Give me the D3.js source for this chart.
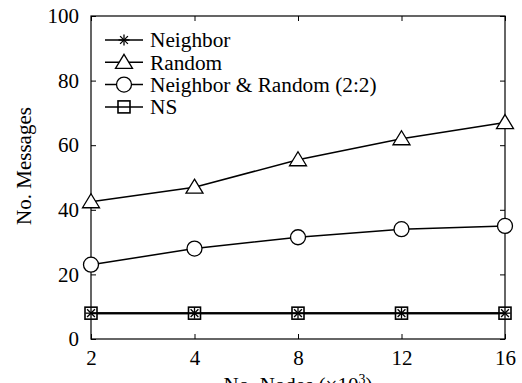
<!DOCTYPE html>
<html>
<head>
<meta charset="utf-8">
<script src="https://cdn.jsdelivr.net/npm/d3@7"></script>
<style>
  body { margin: 0; background: #fff; }
</style>
</head>
<body>
<div id="chart"></div>
<script>
const nodes = ['2', '4', '8', '12', '16']
const neighbor = [8, 8, 8, 8, 8]
const random = [42.5, 47, 55.5, 62, 67]
const mixed = [23, 28, 31.5, 34, 35]
const ns = [8, 8, 8, 8, 8]
const yTicks = [0, 20, 40, 60, 80, 100]

const series = [
  { name: 'Neighbor', values: neighbor, marker: 'star' },
  { name: 'Random', values: random, marker: 'triangle' },
  { name: 'Neighbor & Random (2:2)', values: mixed, marker: 'circle' },
  { name: 'NS', values: ns, marker: 'square' }
]

const serif = 'Liberation Serif'
const margin = { top: 16, right: 17, bottom: 44, left: 91 }
const width = 522 - margin.left - margin.right
const height = 383 - margin.top - margin.bottom

const svg = d3.select('#chart')
  .append('svg')
  .attr('width', 522)
  .attr('height', 383)
  .attr('font-family', serif)

const g = svg.append('g')
  .attr('transform', `translate(${margin.left},${margin.top})`)

const x = d3.scalePoint().domain(nodes).range([0, width])
const y = d3.scaleLinear().domain([0, 100]).range([height, 0])

// frame, ticks point inward on all four sides
g.append('rect')
  .attr('width', width)
  .attr('height', height)
  .attr('fill', 'none')
  .attr('stroke', '#000')
  .attr('stroke-width', 1.2)

const axisStyle = sel => {
  sel.attr('font-family', serif).attr('font-size', 21)
  sel.select('.domain').remove()
  sel.selectAll('line').attr('stroke', '#000').attr('stroke-width', 1)
  sel.selectAll('text')
    .attr('font-family', serif)
    .attr('font-size', 21)
    .attr('fill', '#000')
}

g.append('g')
  .attr('transform', `translate(0,${height})`)
  .call(d3.axisBottom(x).tickSizeInner(-5).tickPadding(11))
  .call(axisStyle)
g.append('g')
  .call(d3.axisTop(x).tickSizeInner(-5).tickFormat(''))
  .call(axisStyle)
g.append('g')
  .call(d3.axisLeft(y).tickValues(yTicks).tickSizeInner(-5).tickPadding(12))
  .call(axisStyle)
g.append('g')
  .attr('transform', `translate(${width},0)`)
  .call(d3.axisRight(y).tickValues(yTicks).tickSizeInner(-5).tickFormat(''))
  .call(axisStyle)

// axis titles
svg.append('text')
  .attr('transform', 'translate(31,166) rotate(-90)')
  .attr('text-anchor', 'middle')
  .attr('font-family', serif)
  .attr('font-size', 21)
  .text('No. Messages')

const xt = svg.append('text')
  .attr('x', margin.left + width / 2)
  .attr('y', 392)
  .attr('text-anchor', 'middle')
  .attr('font-family', serif)
  .attr('font-size', 21)
xt.append('tspan').text('No. Nodes (\u00d710')
xt.append('tspan').attr('dy', -8).attr('font-size', 14).text('3')
xt.append('tspan').attr('dy', 8).text(')')

function drawMarker (sel, type) {
  if (type === 'star') {
    const r = 5.5
    for (let a = 0; a < 180; a += 45) {
      const t = a * Math.PI / 180
      sel.append('line')
        .attr('x1', -r * Math.cos(t)).attr('y1', -r * Math.sin(t))
        .attr('x2', r * Math.cos(t)).attr('y2', r * Math.sin(t))
        .attr('stroke', '#000').attr('stroke-width', 1.3)
    }
  } else if (type === 'triangle') {
    sel.append('path')
      .attr('d', 'M0,-8 L8.5,6 L-8.5,6 Z')
      .attr('fill', '#fff').attr('stroke', '#000').attr('stroke-width', 1.3)
  } else if (type === 'circle') {
    sel.append('circle')
      .attr('r', 7.5)
      .attr('fill', '#fff').attr('stroke', '#000').attr('stroke-width', 1.3)
  } else if (type === 'square') {
    sel.append('rect')
      .attr('x', -6).attr('y', -6).attr('width', 12).attr('height', 12)
      .attr('fill', 'none').attr('stroke', '#000').attr('stroke-width', 1.6)
  }
}

const line = d3.line()
  .x((d, i) => x(nodes[i]))
  .y(d => y(d))

// Random, mixed, NS first; Neighbor stars go on top of the NS squares
const order = [1, 2, 3, 0]
order.forEach(k => {
  const s = series[k]
  g.append('path')
    .datum(s.values)
    .attr('d', line)
    .attr('fill', 'none')
    .attr('stroke', '#000')
    .attr('stroke-width', k === 0 || k === 3 ? 2 : 1.5)
  s.values.forEach((v, i) => {
    const m = g.append('g').attr('transform', `translate(${x(nodes[i])},${y(v)})`)
    if (k === 3) {
      m.append('rect').attr('x', -6).attr('y', -6).attr('width', 12).attr('height', 12).attr('fill', '#fff')
    }
    drawMarker(m, s.marker)
  })
})

// legend
const legend = svg.append('g').attr('transform', 'translate(105,40)')
series.forEach((s, i) => {
  const row = legend.append('g').attr('transform', `translate(0,${i * 22.3})`)
  row.append('line')
    .attr('x1', 0).attr('x2', 38)
    .attr('stroke', '#000').attr('stroke-width', 1.5)
  drawMarker(row.append('g').attr('transform', 'translate(19,0)'), s.marker)
  row.append('text')
    .attr('x', 45)
    .attr('dy', '0.35em')
    .attr('font-family', serif)
    .attr('font-size', 21.3)
    .text(s.name)
})
</script>
</body>
</html>
